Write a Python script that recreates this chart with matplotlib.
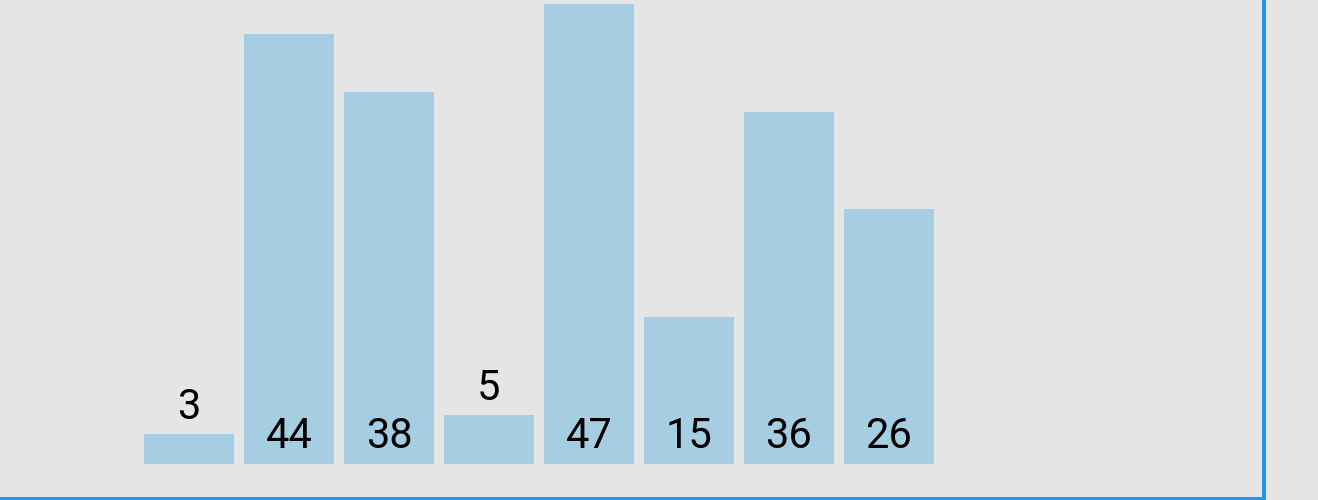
import matplotlib
matplotlib.use("Agg")
import matplotlib.pyplot as plt
from matplotlib.lines import Line2D
from matplotlib.transforms import offset_copy

categories = ["A", "B", "C", "D", "E", "F", "G", "H"]
values = [3, 44, 38, 5, 47, 15, 36, 26]

W, H, DPI = 1318, 500, 100
bg = "#e5e5e5"
bar_color = "#a6cee3"
frame_color = "#2196f3"

fig = plt.figure(figsize=(W / DPI, H / DPI), dpi=DPI, facecolor=bg)
ax = fig.add_axes([0, 0, 1, 1])
ax.set_facecolor(bg)

px_per_unit = 9.77
base_px = 36.5
ax.set_xlim(-1.89, (W - 189) / 100)
ax.set_ylim(-base_px / px_per_unit, (H - base_px) / px_per_unit)

x = list(range(len(values)))
ax.bar(x, values, width=0.9, color=bar_color, linewidth=0)

for xi, v in zip(x, values):
    inside = v >= 10
    y = 0 if inside else v
    tr = offset_copy(ax.transData, fig=fig, x=0, y=15, units="dots")
    ax.text(xi, y, str(v), transform=tr, ha="center", va="baseline",
            fontsize=30, color="#000000", family=["Roboto", "DejaVu Sans"])

for s in ax.spines.values():
    s.set_visible(False)
ax.set_xticks([])
ax.set_yticks([])

# frame lines (right and bottom)
fig.add_artist(Line2D([1263.5 / W, 1263.5 / W], [0, 1], transform=fig.transFigure,
                      color=frame_color, linewidth=4 * 72 / DPI,
                      solid_capstyle="butt"))
fig.add_artist(Line2D([0, 1265.5 / W], [0.5 / H, 0.5 / H], transform=fig.transFigure,
                      color=frame_color, linewidth=6 * 72 / DPI,
                      solid_capstyle="butt"))

fig.savefig("out.png", dpi=DPI, facecolor=bg)
